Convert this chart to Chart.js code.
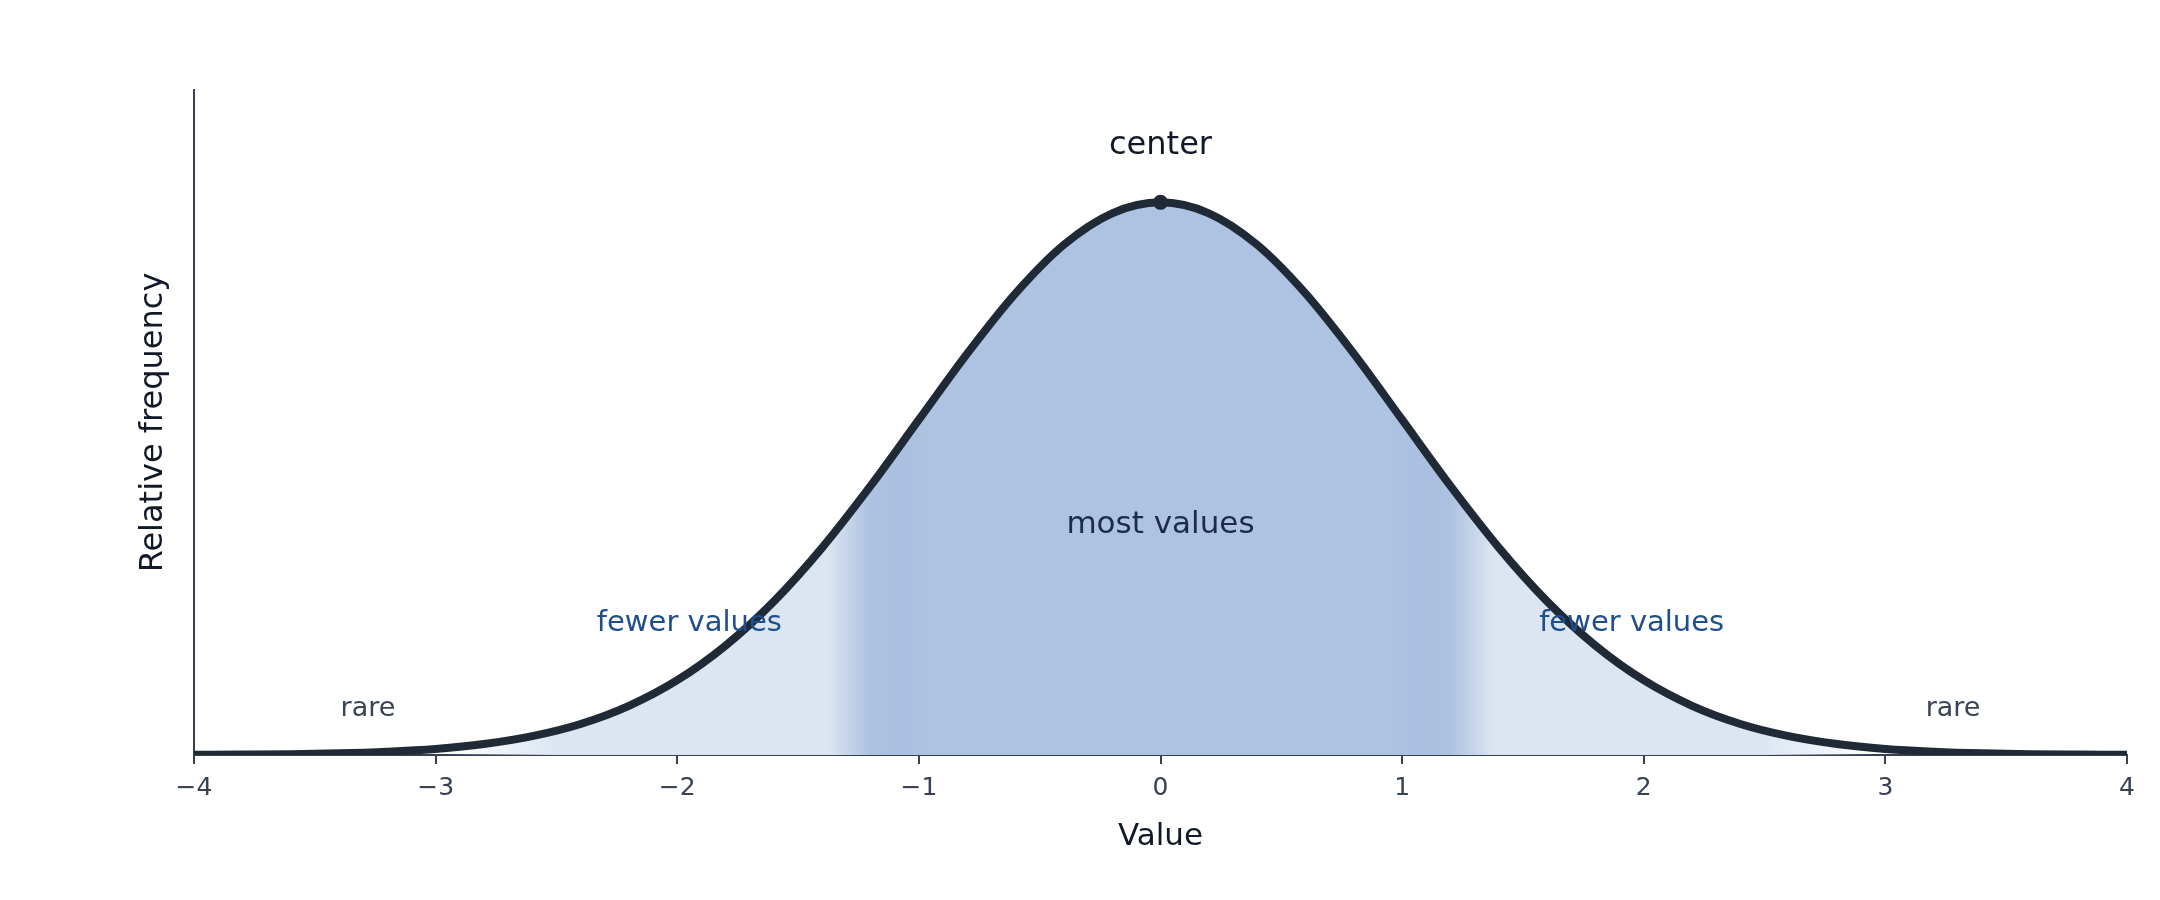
<!DOCTYPE html>
<html>
<head>
<meta charset="utf-8">
<script src="https://cdn.jsdelivr.net/npm/chart.js@4"></script>
<style>
  html, body { margin: 0; padding: 0; background: #ffffff; }
  #chart { display: block; }
</style>
</head>
<body>
<canvas id="chart" width="2160" height="900"></canvas>
<script>
// values
const xValues = [-4, -3.8, -3.6, -3.4, -3.2, -3, -2.8, -2.6, -2.4, -2.2, -2, -1.8, -1.6, -1.4, -1.2, -1, -0.8, -0.6, -0.4, -0.2,
                 0, 0.2, 0.4, 0.6, 0.8, 1, 1.2, 1.4, 1.6, 1.8, 2, 2.2, 2.4, 2.6, 2.8, 3, 3.2, 3.4, 3.6, 3.8, 4];
const density = [0.0001, 0.0003, 0.0006, 0.0012, 0.0024, 0.0044, 0.0079, 0.0136, 0.0224, 0.0355, 0.0540, 0.0790, 0.1109, 0.1497, 0.1942, 0.2420, 0.2897, 0.3332, 0.3683, 0.3910,
                 0.3989, 0.3910, 0.3683, 0.3332, 0.2897, 0.2420, 0.1942, 0.1497, 0.1109, 0.0790, 0.0540, 0.0355, 0.0224, 0.0136, 0.0079, 0.0044, 0.0024, 0.0012, 0.0006, 0.0003, 0.0001];
const xTicks = [-4, -3, -2, -1, 0, 1, 2, 3, 4];
const peakX = 0;

// text notes
const noteText = ['center', 'most values', 'fewer values', 'fewer values', 'rare', 'rare'];
const noteX = [0, 0, -1.95, 1.95, -3.28, 3.28];
const noteY = [0.44, 0.166, 0.095, 0.095, 0.033, 0.033];
const noteKind = ['center', 'most', 'fewer', 'fewer', 'rare', 'rare'];

const noteStyle = {
    center: { size: 32, color: '#111827' },
    most:   { size: 31, color: '#1b2b48' },
    fewer:  { size: 29, color: '#1f4e8c' },
    rare:   { size: 27, color: '#3a4455' }
};

const FONT = "'DejaVu Sans', sans-serif";
const AXIS = '#374151';
const LINE = '#1f2a36';

// band fill: light tails, darker middle
function bandFill(context) {
    const chart = context.chart;
    const area = chart.chartArea;
    if (!area) return '#aec3e2';
    const xs = chart.scales.x;
    const x0 = xs.getPixelForValue(-4);
    const x1 = xs.getPixelForValue(4);
    const g = chart.ctx.createLinearGradient(x0, 0, x1, 0);
    const stop = (v, c) => g.addColorStop((v + 4) / 8, c);
    stop(-4, 'rgba(220,230,242,0)');
    stop(-2.95, 'rgba(220,230,242,0)');
    stop(-2.5, '#dce6f2');
    stop(-1.38, '#dce6f2');
    stop(-1.2, '#adc2e1');
    stop(-1.08, '#abc0e0');
    stop(-0.95, '#aec3e2');
    stop(0.95, '#aec3e2');
    stop(1.08, '#abc0e0');
    stop(1.2, '#adc2e1');
    stop(1.38, '#dce6f2');
    stop(2.5, '#dce6f2');
    stop(2.95, 'rgba(220,230,242,0)');
    stop(4, 'rgba(220,230,242,0)');
    return g;
}

const notesPlugin = {
    id: 'notes',
    afterDatasetsDraw(chart) {
        const ctx = chart.ctx;
        const xs = chart.scales.x, ys = chart.scales.y;
        ctx.save();
        ctx.textAlign = 'center';
        ctx.textBaseline = 'middle';
        noteText.forEach((t, i) => {
            const st = noteStyle[noteKind[i]];
            ctx.font = st.size + 'px ' + FONT;
            ctx.fillStyle = st.color;
            ctx.fillText(t, xs.getPixelForValue(noteX[i]), ys.getPixelForValue(noteY[i]));
        });
        ctx.restore();
    }
};

const points = xValues.map((x, i) => ({ x: x, y: density[i] }));

new Chart(document.getElementById('chart').getContext('2d'), {
    type: 'line',
    data: {
        datasets: [{
            data: points,
            borderColor: LINE,
            borderWidth: 8,
            cubicInterpolationMode: 'monotone',
            fill: 'origin',
            backgroundColor: bandFill,
            pointRadius: xValues.map(x => x === peakX ? 7.5 : 0),
            pointBackgroundColor: LINE,
            pointBorderWidth: 0,
            pointHoverRadius: 0
        }]
    },
    options: {
        responsive: false,
        animation: false,
        devicePixelRatio: 1,
        layout: { padding: { top: 90, right: 33, bottom: 0, left: 0 } },
        plugins: {
            legend: { display: false },
            tooltip: { enabled: false }
        },
        scales: {
            x: {
                type: 'linear',
                min: -4,
                max: 4,
                afterFit: s => { s.height = 145; },
                afterBuildTicks: s => { s.ticks = xTicks.map(v => ({ value: v })); },
                ticks: {
                    color: AXIS,
                    font: { family: FONT, size: 25 },
                    padding: 9,
                    maxRotation: 0,
                    callback: v => String(v).replace('-', '\u2212')
                },
                grid: { display: true, drawOnChartArea: false, drawTicks: true, tickLength: 9, color: AXIS, lineWidth: 2 },
                border: { display: true, color: AXIS, width: 2 },
                title: {
                    display: true,
                    text: 'Value',
                    color: '#111827',
                    font: { family: FONT, size: 31 },
                    padding: { top: 0, bottom: 44 }
                }
            },
            y: {
                min: 0,
                max: 0.48,
                afterFit: s => { s.width = 194; },
                ticks: { display: false },
                grid: { display: false },
                border: { display: true, color: AXIS, width: 2 },
                title: {
                    display: true,
                    text: 'Relative frequency',
                    color: '#111827',
                    font: { family: FONT, size: 32 },
                    padding: { top: 134, bottom: 0 }
                }
            }
        }
    },
    plugins: [notesPlugin]
});
</script>
</body>
</html>
